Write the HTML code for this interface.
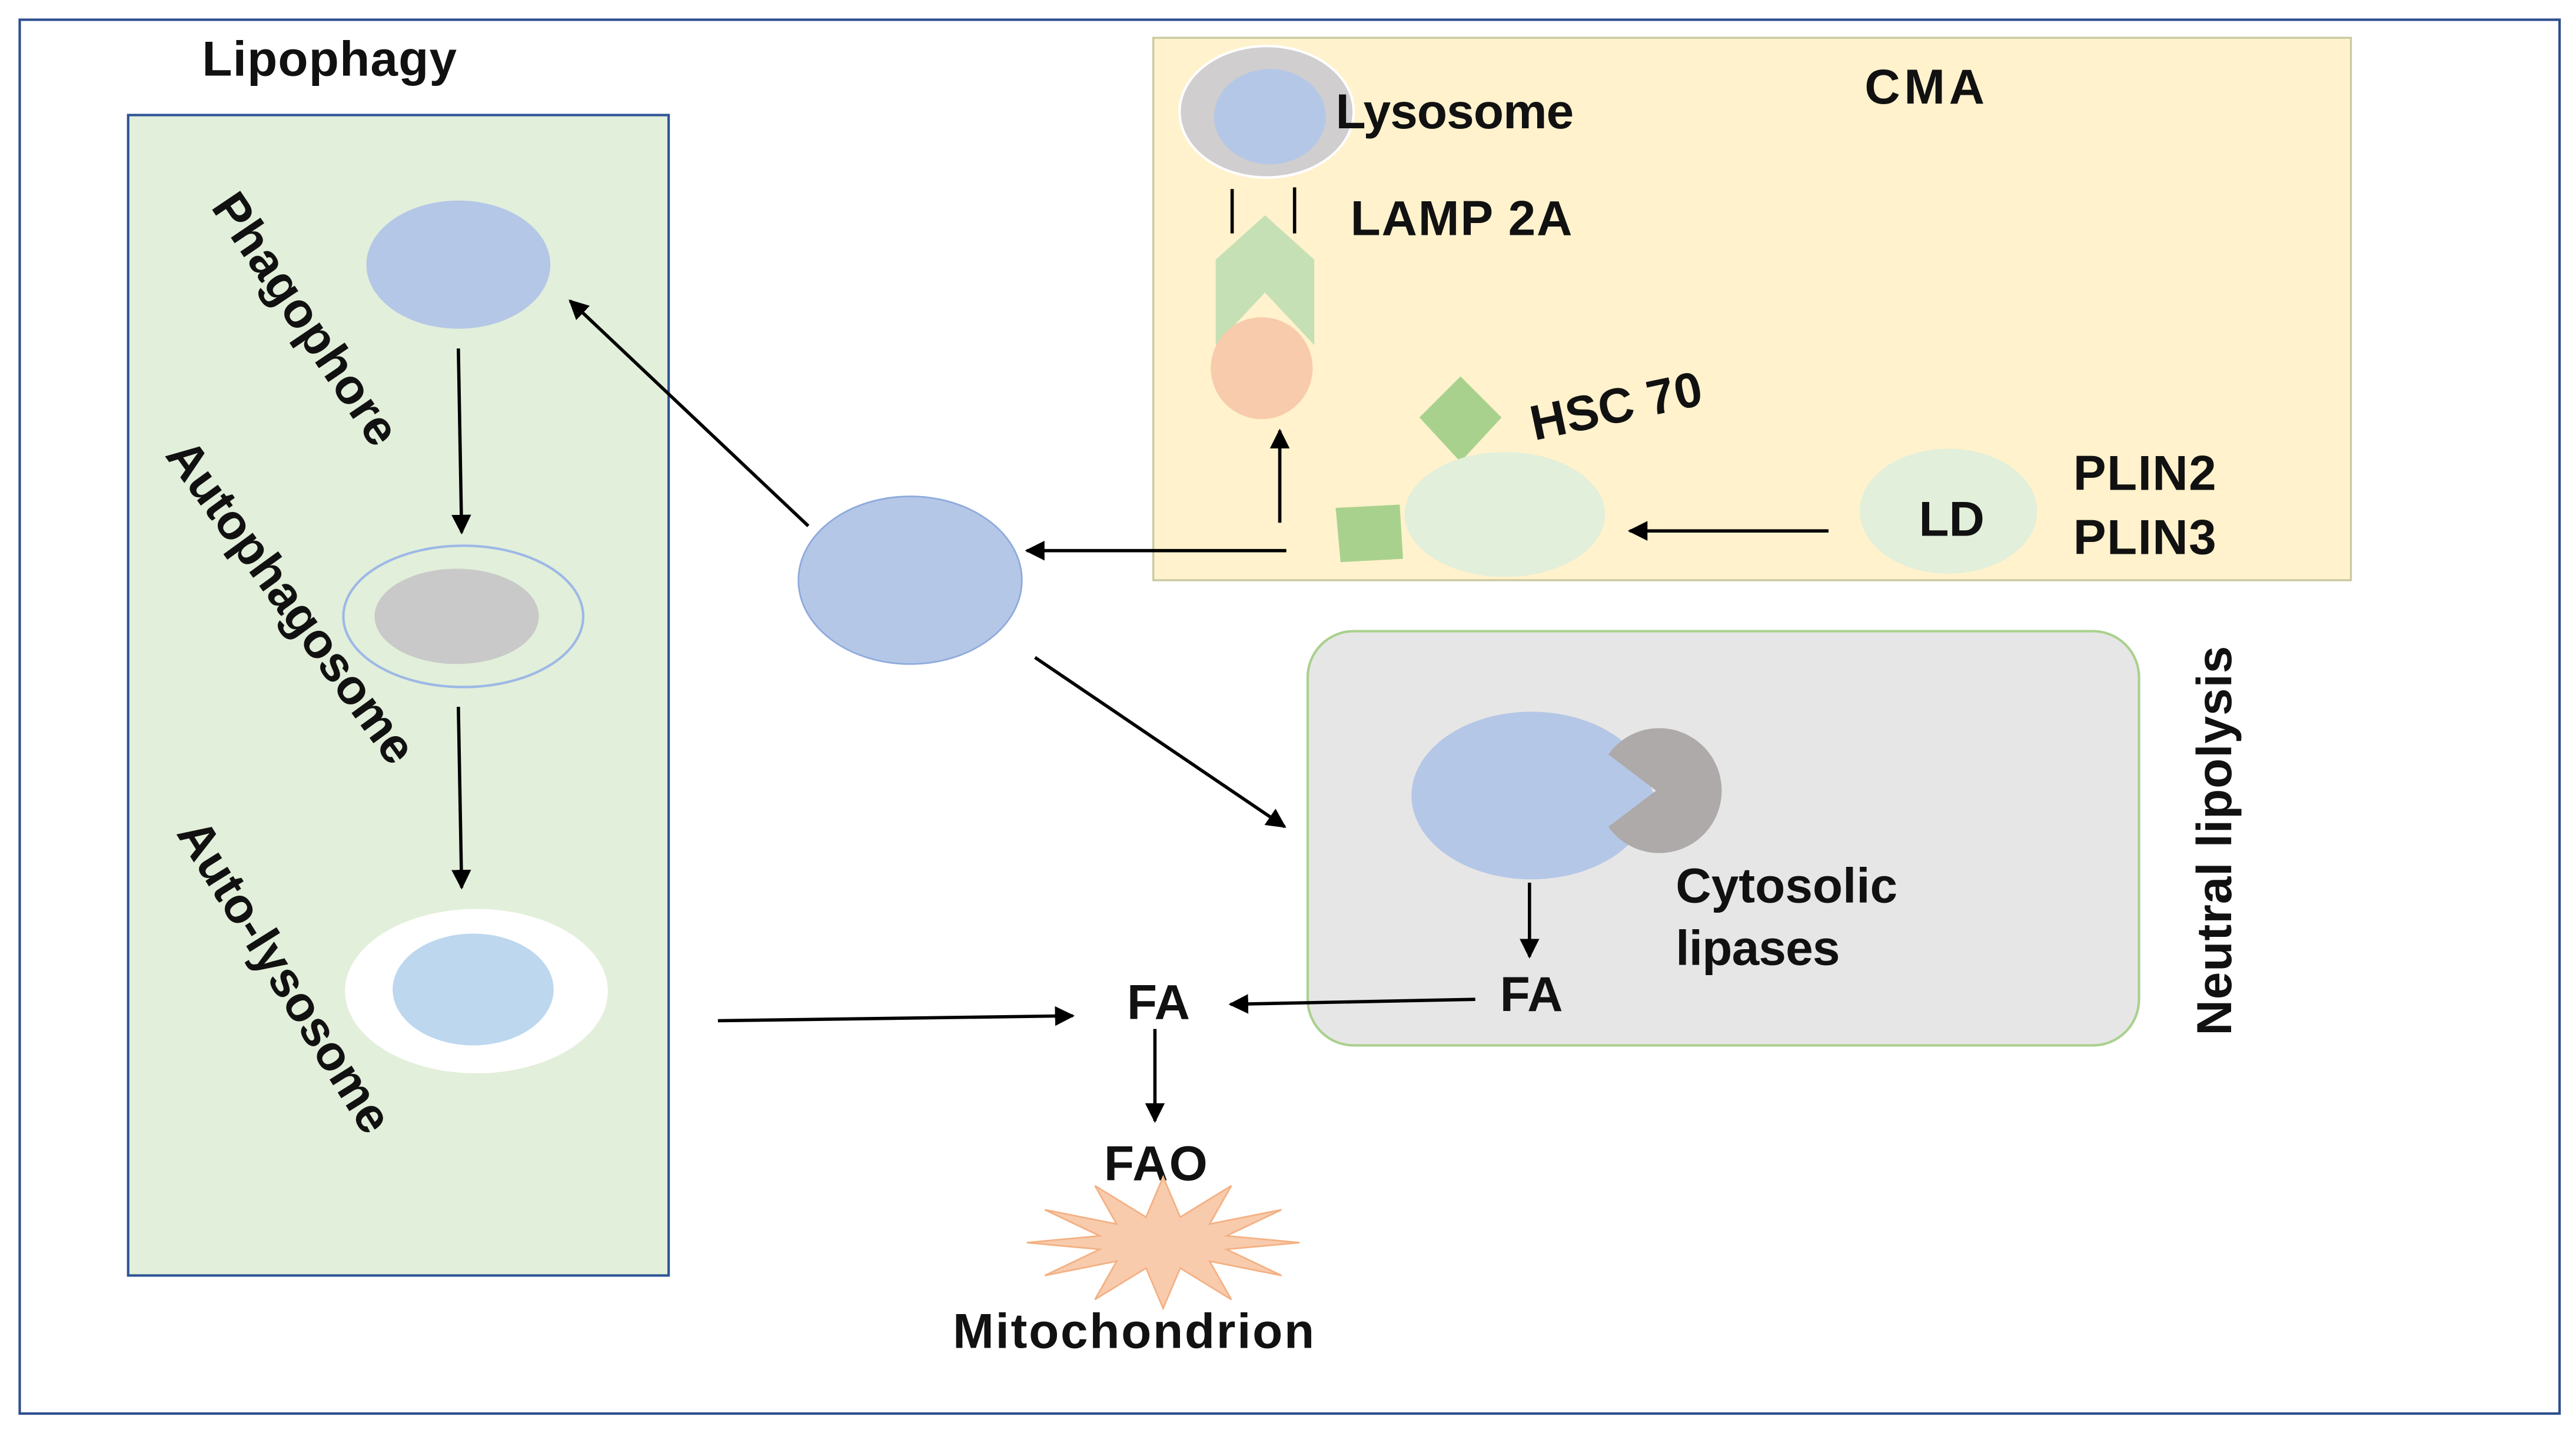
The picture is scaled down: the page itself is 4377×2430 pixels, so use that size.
<!DOCTYPE html>
<html><head><meta charset="utf-8"><style>
html,body{margin:0;padding:0;background:#fff}
svg{display:block}
text{font-family:"Liberation Sans","Noto Sans CJK SC",sans-serif;fill:#111;font-size:30px;font-weight:bold}
</style></head><body>
<svg width="4377" height="2430" viewBox="0 0 1568 870" preserveAspectRatio="none" xmlns="http://www.w3.org/2000/svg">
<defs>
<marker id="b" viewBox="0 0 10 10" refX="9" refY="5" markerWidth="12" markerHeight="12" markerUnits="userSpaceOnUse" orient="auto"><path d="M0,0L10,5L0,10z" fill="#000"/></marker></defs>
<rect x="0" y="0" width="1568" height="870" fill="#fff"/>
<rect x="12" y="12" width="1546" height="848" fill="none" stroke="#2f4f8f" stroke-width="1.5"/>
<text x="123" y="46" textLength="155">Lipophagy</text>
<rect x="78" y="70" width="329" height="706" fill="#e2efda" stroke="#2f5597" stroke-width="1.5"/>
<ellipse cx="279" cy="161" rx="56" ry="39" fill="#b4c7e7"/>
<ellipse cx="282" cy="375" rx="73" ry="43" fill="none" stroke="#9db8e6" stroke-width="1.5"/>
<ellipse cx="278" cy="375" rx="50" ry="29" fill="#c9c9c9"/>
<ellipse cx="290" cy="603" rx="80" ry="50" fill="#fff"/>
<ellipse cx="288" cy="602" rx="49" ry="34" fill="#bdd7ee"/>
<text transform="translate(128,126) rotate(56)" textLength="178">Phagophore</text>
<text transform="translate(100,277) rotate(54)" textLength="235">Autophagosome</text>
<text transform="translate(107,507) rotate(58)" textLength="218">Auto-lysosome</text>
<ellipse cx="554" cy="353" rx="68" ry="51" fill="#b4c7e7" stroke="#8faadc"/>
<rect x="702" y="23" width="729" height="330" fill="#fff2cc" stroke="#c9c9a0" stroke-width="1.2"/>
<ellipse cx="771" cy="68" rx="53" ry="40" fill="#d0cece" stroke="#fff" stroke-width="1.5"/>
<ellipse cx="773" cy="71" rx="34" ry="29" fill="#b4c7e7"/>
<text x="813" y="78" textLength="145">Lysosome</text>
<text x="1135" y="63" textLength="73">CMA</text>
<line x1="750" y1="115" x2="750" y2="142" stroke="#000" stroke-width="2"/>
<line x1="788" y1="114" x2="788" y2="142" stroke="#000" stroke-width="2"/>
<text x="822" y="143" textLength="135">LAMP 2A</text>
<polygon points="740,158 770,131 800,158 800,210 770,178 740,210" fill="#c5e0b4"/>
<circle cx="768" cy="224" r="31" fill="#f8cbad"/>
<polygon points="889,229 914,254 889,281 864,254" fill="#a9d18e"/>
<text transform="translate(934,268) rotate(-12)" textLength="106">HSC 70</text>
<polygon points="813,309 852,307 854,340 816,342" fill="#a9d18e"/>
<ellipse cx="916" cy="313" rx="61" ry="38" fill="#e2efda"/>
<ellipse cx="1186" cy="311" rx="54" ry="38" fill="#e2efda"/>
<text x="1168" y="326">LD</text>
<text x="1262" y="298" textLength="87">PLIN2</text>
<text x="1262" y="337" textLength="87">PLIN3</text>
<rect x="796" y="384" width="506" height="252" rx="28" fill="#e7e6e6" stroke="#a9d18e" stroke-width="1.5"/>
<path d="M1007,484 L998,462 A73,51 0 1 0 998,506 Z" fill="#b4c7e7"/>
<path d="M1008,481 L979,459 A38,38 0 1 1 979,503 Z" fill="#aeaaaa"/>
<text x="1020" y="549" textLength="135">Cytosolic</text>
<text x="1020" y="587" textLength="100">lipases</text>
<text x="913" y="615">FA</text>
<text x="686" y="620">FA</text>
<text x="672" y="718" textLength="63">FAO</text>
<text transform="translate(1358,630) rotate(-90)" textLength="237">Neutral lipolysis</text>
<polygon points="791,756 746.6,760.1 780,776 736.3,767.3 749.5,790.6 718.4,771.5 708,796 697.6,771.5 666.5,790.6 679.7,767.3 636,776 669.4,760.1 625,756 669.4,751.9 636,736 679.7,744.7 666.5,721.4 697.6,740.5 708,716 718.4,740.5 749.5,721.4 736.3,744.7 780,736 746.6,751.9" fill="#f8cbad" stroke="#f4b183"/>
<text x="580" y="820" textLength="220">Mitochondrion</text>
<g stroke="#000" stroke-width="2" fill="none" marker-end="url(#b)">
<line x1="279" y1="212" x2="281" y2="324"/>
<line x1="279" y1="430" x2="281" y2="540"/>
<line x1="492" y1="320" x2="347" y2="183"/>
<line x1="630" y1="400" x2="782" y2="503"/>
<line x1="437" y1="621" x2="653" y2="618"/>
<line x1="779" y1="318" x2="779" y2="262"/>
<line x1="1113" y1="323" x2="992" y2="323"/>
<line x1="783" y1="335" x2="625" y2="335"/>
<line x1="931" y1="537" x2="931" y2="582"/>
<line x1="898" y1="608" x2="749" y2="611"/>
<line x1="703" y1="626" x2="703" y2="682"/>
</g>
</svg>
</body></html>
